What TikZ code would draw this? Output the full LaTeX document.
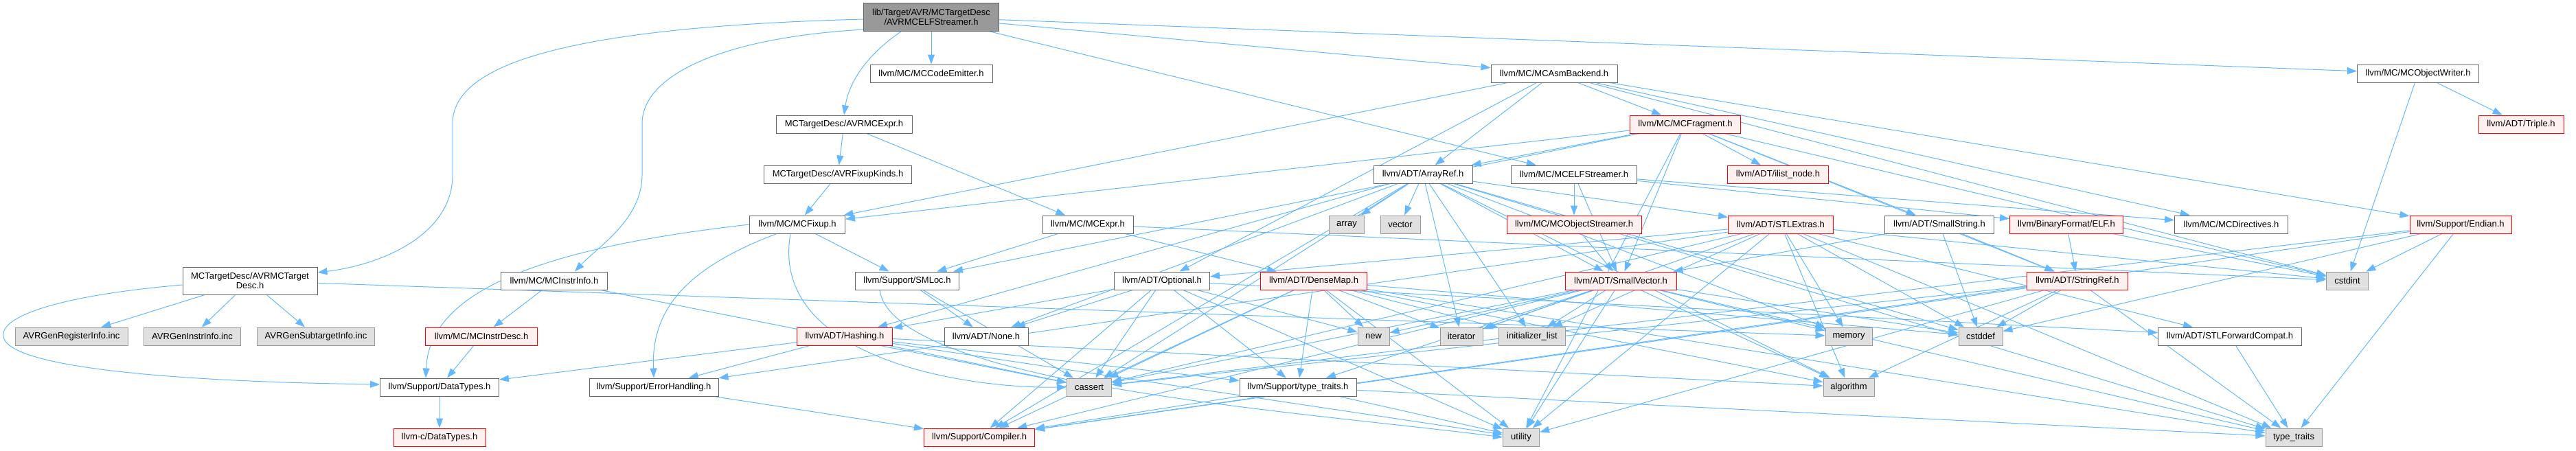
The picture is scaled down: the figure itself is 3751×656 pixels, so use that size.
\documentclass[tikz,border=0pt]{standalone}
\usepackage{fontspec}
\setmainfont{Liberation Sans}
\usetikzlibrary{arrows.meta,calc}
\definecolor{edgec}{HTML}{63B8FF}
\definecolor{boxdraw}{HTML}{666666}
\definecolor{redfill}{HTML}{FFF0F0}
\definecolor{sysdraw}{HTML}{999999}
\definecolor{sysfill}{HTML}{E0E0E0}
\definecolor{rootfill}{HTML}{999999}
\pgfdeclarelayer{bg}
\pgfsetlayers{bg,main}
\begin{document}
\begin{tikzpicture}[x=1pt,y=-1pt,
  box/.style={draw=boxdraw, fill=white, line width=1pt, inner sep=0pt, minimum height=26pt, font=\fontsize{13}{14.5}\selectfont, align=center},
  redbox/.style={box, draw=red, fill=redfill},
  sysbox/.style={box, draw=sysdraw, fill=sysfill},
  rootbox/.style={box, fill=rootfill},
  e/.style={draw=edgec, line width=1pt, -{Triangle[length=14pt,width=10pt]}}]
\useasboundingbox (0,0) rectangle (3751,656);
% row 0-1
\node[rootbox, minimum width=197pt, minimum height=41pt] (root) at (1356,25) {lib/Target/AVR/MCTargetDesc\\/AVRMCELFStreamer.h};
\node[box, minimum width=178pt] (codeemit) at (1356,107) {llvm/MC/MCCodeEmitter.h};
\node[box, minimum width=184pt] (asmback) at (2263,107) {llvm/MC/MCAsmBackend.h};
\node[box, minimum width=177pt] (objwriter) at (3521,107) {llvm/MC/MCObjectWriter.h};
% row 2
\node[box, minimum width=198pt] (avrexpr) at (1229,181) {MCTargetDesc/AVRMCExpr.h};
\node[redbox, minimum width=161pt] (fragment) at (2454,181) {llvm/MC/MCFragment.h};
\node[redbox, minimum width=124pt] (triple) at (3671,181) {llvm/ADT/Triple.h};
% row 3
\node[box, minimum width=215pt] (fixupk) at (1220,254) {MCTargetDesc/AVRFixupKinds.h};
\node[box, minimum width=144pt] (arrayref) at (2072,254) {llvm/ADT/ArrayRef.h};
\node[box, minimum width=183pt] (elfstream) at (2292,254) {llvm/MC/MCELFStreamer.h};
\node[redbox, minimum width=147pt] (ilist) at (2589,254) {llvm/ADT/ilist\_node.h};
% row 4
\node[box, minimum width=139pt] (fixup) at (1161,327) {llvm/MC/MCFixup.h};
\node[box, minimum width=132pt] (mcexpr) at (1584,327) {llvm/MC/MCExpr.h};
\node[sysbox, minimum width=51pt] (array) at (1961,327) {array};
\node[sysbox, minimum width=58pt] (vector) at (2039,327) {vector};
\node[redbox, minimum width=196pt] (objstream) at (2292,327) {llvm/MC/MCObjectStreamer.h};
\node[redbox, minimum width=153pt] (stlextras) at (2593,327) {llvm/ADT/STLExtras.h};
\node[box, minimum width=159pt] (smallstring) at (2824,327) {llvm/ADT/SmallString.h};
\node[redbox, minimum width=165pt] (elf) at (3009,327) {llvm/BinaryFormat/ELF.h};
\node[box, minimum width=165pt] (directives) at (3249,327) {llvm/MC/MCDirectives.h};
\node[redbox, minimum width=148pt] (endian) at (3583,327) {llvm/Support/Endian.h};
% row 5
\node[box, minimum width=196pt, minimum height=40pt] (tdesc) at (364,409) {MCTargetDesc/AVRMCTarget\\Desc.h};
\node[box, minimum width=155pt] (instrinfo) at (807,409) {llvm/MC/MCInstrInfo.h};
\node[box, minimum width=151pt] (smloc) at (1321,409) {llvm/Support/SMLoc.h};
\node[box, minimum width=139pt] (optional) at (1692,409) {llvm/ADT/Optional.h};
\node[redbox, minimum width=155pt] (densemap) at (1913,409) {llvm/ADT/DenseMap.h};
\node[redbox, minimum width=162pt] (smallvector) at (2360,409) {llvm/ADT/SmallVector.h};
\node[redbox, minimum width=147pt] (stringref) at (3025,409) {llvm/ADT/StringRef.h};
\node[sysbox, minimum width=61pt] (cstdint) at (3418,409) {cstdint};
% row 6
\node[sysbox, minimum width=164pt] (reginfo) at (104,490) {AVRGenRegisterInfo.inc};
\node[sysbox, minimum width=141pt] (instrinc) at (280,490) {AVRGenInstrInfo.inc};
\node[sysbox, minimum width=171pt] (subtarget) at (460,490) {AVRGenSubtargetInfo.inc};
\node[redbox, minimum width=163pt] (instrdesc) at (701,490) {llvm/MC/MCInstrDesc.h};
\node[redbox, minimum width=139pt] (hashing) at (1230,490) {llvm/ADT/Hashing.h};
\node[box, minimum width=122pt] (none) at (1436,490) {llvm/ADT/None.h};
\node[sysbox, minimum width=46pt] (new) at (2000,490) {new};
\node[sysbox, minimum width=62pt] (iterator) at (2128,490) {iterator};
\node[sysbox, minimum width=97pt] (initlist) at (2231,490) {initializer\_list};
\node[sysbox, minimum width=68pt] (memory) at (2692,490) {memory};
\node[sysbox, minimum width=64pt] (cstddef) at (2884,490) {cstddef};
\node[box, minimum width=209pt] (stlfwd) at (3247,490) {llvm/ADT/STLForwardCompat.h};
% row 7
\node[box, minimum width=173pt] (datatypes) at (640,564) {llvm/Support/DataTypes.h};
\node[box, minimum width=188pt] (errh) at (952,564) {llvm/Support/ErrorHandling.h};
\node[sysbox, minimum width=65pt] (cassert) at (1586,564) {cassert};
\node[box, minimum width=170pt] (sttraits) at (1890,564) {llvm/Support/type\_traits.h};
\node[sysbox, minimum width=74pt] (algorithm) at (2692,564) {algorithm};
% row 8
\node[redbox, minimum width=134pt] (llvmc) at (640,637) {llvm-c/DataTypes.h};
\node[redbox, minimum width=161pt] (compiler) at (1426,637) {llvm/Support/Compiler.h};
\node[sysbox, minimum width=53pt] (utility) at (2215,637) {utility};
\node[sysbox, minimum width=82pt] (typetraits) at (3340,637) {type\_traits};

\begin{pgfonlayer}{bg}
% curved edges
\draw[e] ([yshift=-3pt]root.west) .. controls (800,40) and (659,100) .. (659,180) -- (659,255) .. controls (659,340) and (560,385) .. ([yshift=12pt]tdesc.east);
\draw[e] ([yshift=3pt]root.south west) .. controls (1050,55) and (935,110) .. (935,180) -- (935,255) .. controls (935,320) and (870,360) .. ([xshift=30pt]instrinfo.north);
\draw[e] ([xshift=-44pt]root.south) .. controls (1262,80) and (1236,120) .. (avrexpr.north);
\draw[e] ([yshift=-6pt]tdesc.west) .. controls (90,430) and (0,460) .. (5,490) .. controls (10,535) and (250,556) .. ([yshift=4pt]datatypes.west);
\draw[e] (fixup.west) .. controls (800,360) and (625,420) .. ([xshift=-20pt]datatypes.north);
\draw[e] ([xshift=-30pt]fixup.south) .. controls (1000,390) and (948,450) .. (errh.north);
\draw[e] ([xshift=-10pt]fixup.south) .. controls (1120,520) and (1400,566) .. (cassert.west);
\draw[e] ([xshift=-40pt]smloc.south) .. controls (1300,560) and (1900,600) .. (utility.west);
% straight edges
\foreach \a/\b in {
 root/codeemit, root/asmback, root/objwriter, root/elfstream,
 tdesc/reginfo, tdesc/instrinc, tdesc/subtarget, tdesc/memory,
 avrexpr/fixupk, avrexpr/mcexpr, fixupk/fixup, fixup/smloc,
 mcexpr/smloc, mcexpr/densemap, mcexpr/cstdint,
 asmback/arrayref, asmback/optional, asmback/fixup, asmback/fragment,
 asmback/directives, asmback/endian, asmback/cstdint,
 fragment/arrayref, fragment/smallstring, fragment/smallvector, fragment/stringref,
 fragment/ilist, fragment/fixup, fragment/smloc, fragment/cstdint, fragment/utility,
 elfstream/smallvector, elfstream/elf, elfstream/directives, elfstream/objstream,
 objstream/smallvector, objwriter/triple, objwriter/cstdint,
 instrinfo/instrdesc, instrinfo/cassert, instrdesc/datatypes, datatypes/llvmc,
 errh/compiler, smloc/none, smloc/cassert,
 arrayref/hashing, arrayref/none, arrayref/smallvector, arrayref/stlextras,
 arrayref/compiler, arrayref/algorithm, arrayref/array, arrayref/cassert,
 arrayref/cstddef, arrayref/initlist, arrayref/iterator, arrayref/memory,
 arrayref/typetraits, arrayref/vector,
 optional/hashing, optional/none, optional/stlfwd, optional/compiler,
 optional/sttraits, optional/cassert, optional/new, optional/utility,
 densemap/compiler, densemap/sttraits, densemap/algorithm, densemap/cassert,
 densemap/cstddef, densemap/initlist, densemap/iterator, densemap/new,
 densemap/typetraits, densemap/utility,
 smallvector/compiler, smallvector/sttraits, smallvector/algorithm, smallvector/cassert,
 smallvector/cstddef, smallvector/initlist, smallvector/iterator, smallvector/memory,
 smallvector/new, smallvector/typetraits, smallvector/utility,
 hashing/datatypes, hashing/errh, hashing/sttraits, hashing/algorithm,
 hashing/cassert, hashing/utility,
 stlextras/optional, stlextras/stlfwd, stlextras/errh, stlextras/algorithm,
 stlextras/cassert, stlextras/cstddef, stlextras/cstdint, stlextras/initlist,
 stlextras/iterator, stlextras/memory, stlextras/typetraits, stlextras/utility,
 smallstring/smallvector, smallstring/stringref, smallstring/cstddef,
 elf/stringref, elf/cstdint,
 stringref/compiler, stringref/algorithm, stringref/cassert, stringref/cstddef,
 stringref/typetraits, stringref/utility,
 endian/compiler, endian/cassert, endian/cstddef, endian/cstdint, endian/typetraits,
 stlfwd/typetraits, sttraits/compiler, sttraits/typetraits, sttraits/utility}
 {\draw[e] (\a) -- (\b);}
\end{pgfonlayer}
\end{tikzpicture}
\end{document}
